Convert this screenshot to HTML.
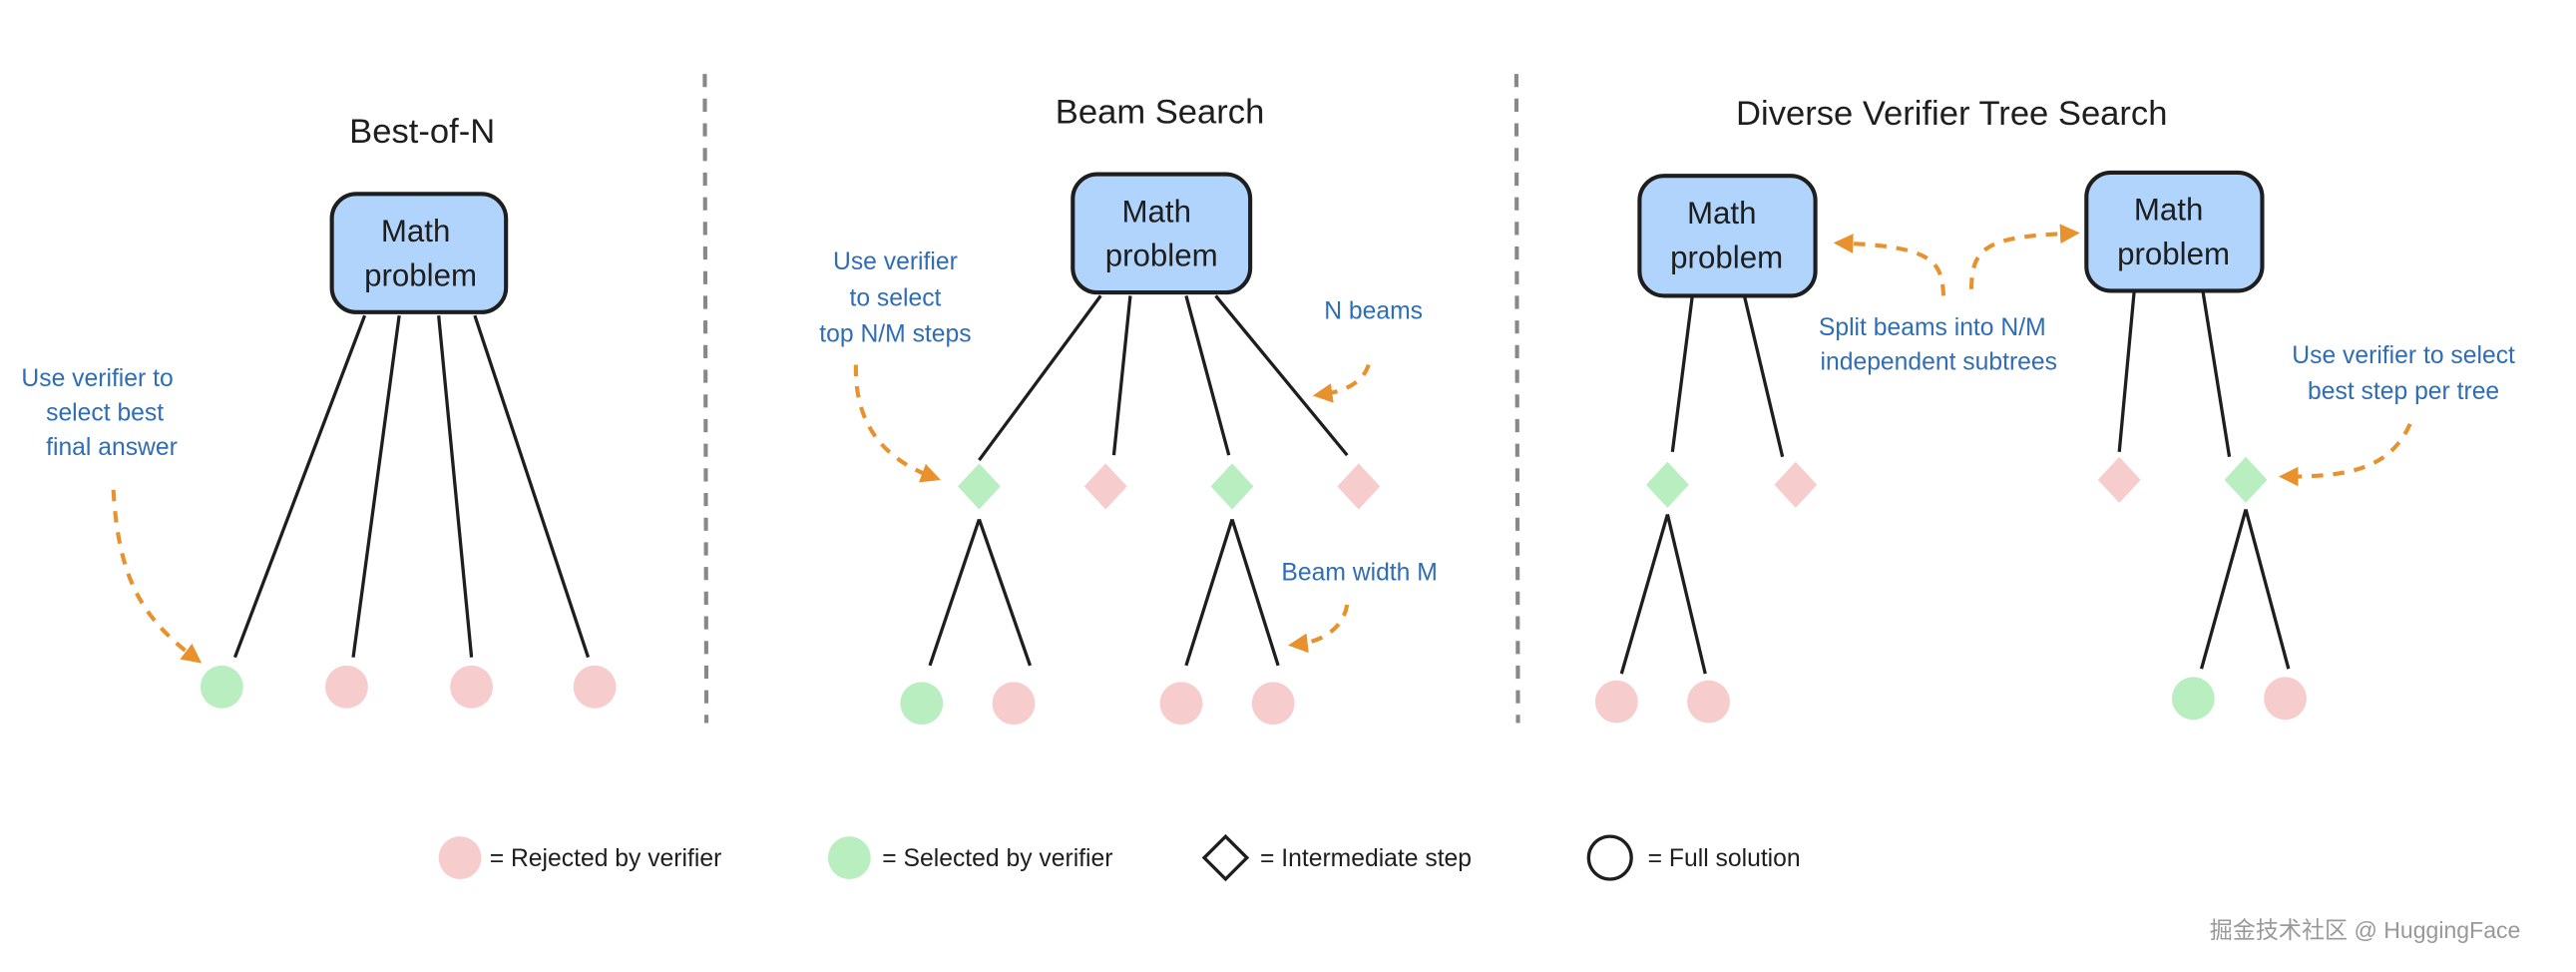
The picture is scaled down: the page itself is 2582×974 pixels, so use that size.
<!DOCTYPE html>
<html><head><meta charset="utf-8"><style>
html,body{margin:0;padding:0;background:#fff;}
svg{display:block;}
text{font-family:"Liberation Sans","Noto Sans CJK SC",sans-serif;}
.t{font-size:21px;fill:#1e1e1e;text-anchor:middle;}
.b{font-size:19px;fill:#1e1e1e;text-anchor:middle;}
.a{font-size:15px;fill:#2f6db5;}
.l{stroke:#1e1e1e;stroke-width:2;fill:none;}
.o{stroke:#e8912d;stroke-width:2.5;fill:none;stroke-dasharray:7 6;}
.g{fill:#b8eec0;} .p{fill:#f7cccc;}
.box{fill:#b0d4fb;stroke:#1e1e1e;stroke-width:2.5;}
.lg{font-size:15px;fill:#1e1e1e;}
</style></head><body>
<svg width="2582" height="974" viewBox="0 0 1568 591.5" preserveAspectRatio="none">
<defs><marker id="ah" markerWidth="12" markerHeight="12" refX="6" refY="6" orient="auto" markerUnits="userSpaceOnUse"><path d="M0,0 L12,6 L0,12 z" fill="#e8912d"/></marker></defs>
<line x1="429" y1="45" x2="430" y2="440" stroke="#888" stroke-width="2.5" stroke-dasharray="8 7"/>
<line x1="923" y1="45" x2="924" y2="440" stroke="#888" stroke-width="2.5" stroke-dasharray="8 7"/>
<text class="t" x="257" y="87">Best-of-N</text>
<text class="t" x="706" y="75">Beam Search</text>
<text class="t" x="1188" y="76">Diverse Verifier Tree Search</text>

<!-- Best of N -->
<rect class="box" x="202" y="118" width="106" height="72" rx="15"/>
<text class="b" x="253" y="147">Math</text><text class="b" x="256" y="174">problem</text>
<path class="l" d="M222,192 L143,400 M243,192 L215,400 M267,192 L287,400 M289,192 L358,400"/>
<circle class="g" cx="135" cy="418" r="13"/><circle class="p" cx="211" cy="418" r="13"/><circle class="p" cx="287" cy="418" r="13"/><circle class="p" cx="362" cy="418" r="13"/>
<text class="a" x="13" y="235">Use verifier to</text><text class="a" x="28" y="256">select best</text><text class="a" x="28" y="277">final answer</text>
<path class="o" d="M69,298 C72,350 85,375 118,400" marker-end="url(#ah)"/>

<!-- Beam search -->
<rect class="box" x="653" y="106" width="108" height="72" rx="15"/>
<text class="b" x="704" y="135">Math</text><text class="b" x="707" y="162">problem</text>
<path class="l" d="M670,180 L596,280 M688,180 L678,277 M722,180 L748,277 M740,180 L820,277"/>
<path class="g" d="M596,282 L609,296 L596,310 L583,296z"/><path class="p" d="M673,282 L686,296 L673,310 L660,296z"/>
<path class="g" d="M750,282 L763,296 L750,310 L737,296z"/><path class="p" d="M827,282 L840,296 L827,310 L814,296z"/>
<path class="l" d="M596,316 L566,405 M596,316 L627,405 M750,316 L722,405 M750,316 L778,405"/>
<circle class="g" cx="561" cy="428" r="13"/><circle class="p" cx="617" cy="428" r="13"/><circle class="p" cx="719" cy="428" r="13"/><circle class="p" cx="775" cy="428" r="13"/>
<text class="a" x="545" y="164" text-anchor="middle">Use verifier</text><text class="a" x="545" y="186" text-anchor="middle">to select</text><text class="a" x="545" y="208" text-anchor="middle">top N/M steps</text>
<path class="o" d="M521,222 C520,260 540,280 567,290" marker-end="url(#ah)"/>
<text class="a" x="806" y="194">N beams</text>
<path class="o" d="M833,222 C830,232 820,238 805,240" marker-end="url(#ah)"/>
<text class="a" x="780" y="353">Beam width M</text>
<path class="o" d="M820,368 C818,380 808,390 790,392" marker-end="url(#ah)"/>

<!-- DVTS -->
<rect class="box" x="998" y="107" width="107" height="73" rx="15"/>
<text class="b" x="1048" y="136">Math</text><text class="b" x="1051" y="163">problem</text>
<rect class="box" x="1270" y="105" width="107" height="72" rx="15"/>
<text class="b" x="1320" y="134">Math</text><text class="b" x="1323" y="161">problem</text>
<path class="l" d="M1030,181 L1018,275 M1062,181 L1085,278 M1299,178 L1290,275 M1341,178 L1357,278"/>
<path class="g" d="M1015,281 L1028,295 L1015,309 L1002,295z"/><path class="p" d="M1093,281 L1106,295 L1093,309 L1080,295z"/>
<path class="p" d="M1290,278 L1303,292 L1290,306 L1277,292z"/><path class="g" d="M1367,278 L1380,292 L1367,306 L1354,292z"/>
<path class="l" d="M1015,313 L987,410 M1015,313 L1038,410 M1367,310 L1340,407 M1367,310 L1393,407"/>
<circle class="p" cx="984" cy="427" r="13"/><circle class="p" cx="1040" cy="427" r="13"/><circle class="g" cx="1335" cy="425" r="13"/><circle class="p" cx="1391" cy="425" r="13"/>
<text class="a" x="1107" y="204">Split beams into N/M</text><text class="a" x="1108" y="225">independent subtrees</text>
<path class="o" d="M1183,180 C1182,160 1178,150 1122,148" marker-end="url(#ah)"/>
<path class="o" d="M1200,176 C1200,150 1210,144 1260,142" marker-end="url(#ah)"/>
<text class="a" x="1463" y="221" text-anchor="middle">Use verifier to select</text><text class="a" x="1463" y="243" text-anchor="middle">best step per tree</text>
<path class="o" d="M1467,258 C1455,285 1430,290 1393,290" marker-end="url(#ah)"/>

<!-- legend -->
<circle class="p" cx="280" cy="522" r="13"/><text class="lg" x="298" y="527">= Rejected by verifier</text>
<circle class="g" cx="517" cy="522" r="13"/><text class="lg" x="537" y="527">= Selected by verifier</text>
<path d="M746,509 L759,522 L746,535 L733,522z" fill="none" stroke="#1e1e1e" stroke-width="2"/><text class="lg" x="767" y="527">= Intermediate step</text>
<circle cx="980" cy="522" r="13" fill="none" stroke="#1e1e1e" stroke-width="2"/><text class="lg" x="1003" y="527">= Full solution</text>
<text x="1345" y="571" style="font-size:14px;fill:#999">掘金技术社区 @ HuggingFace</text>
</svg>
</body></html>
